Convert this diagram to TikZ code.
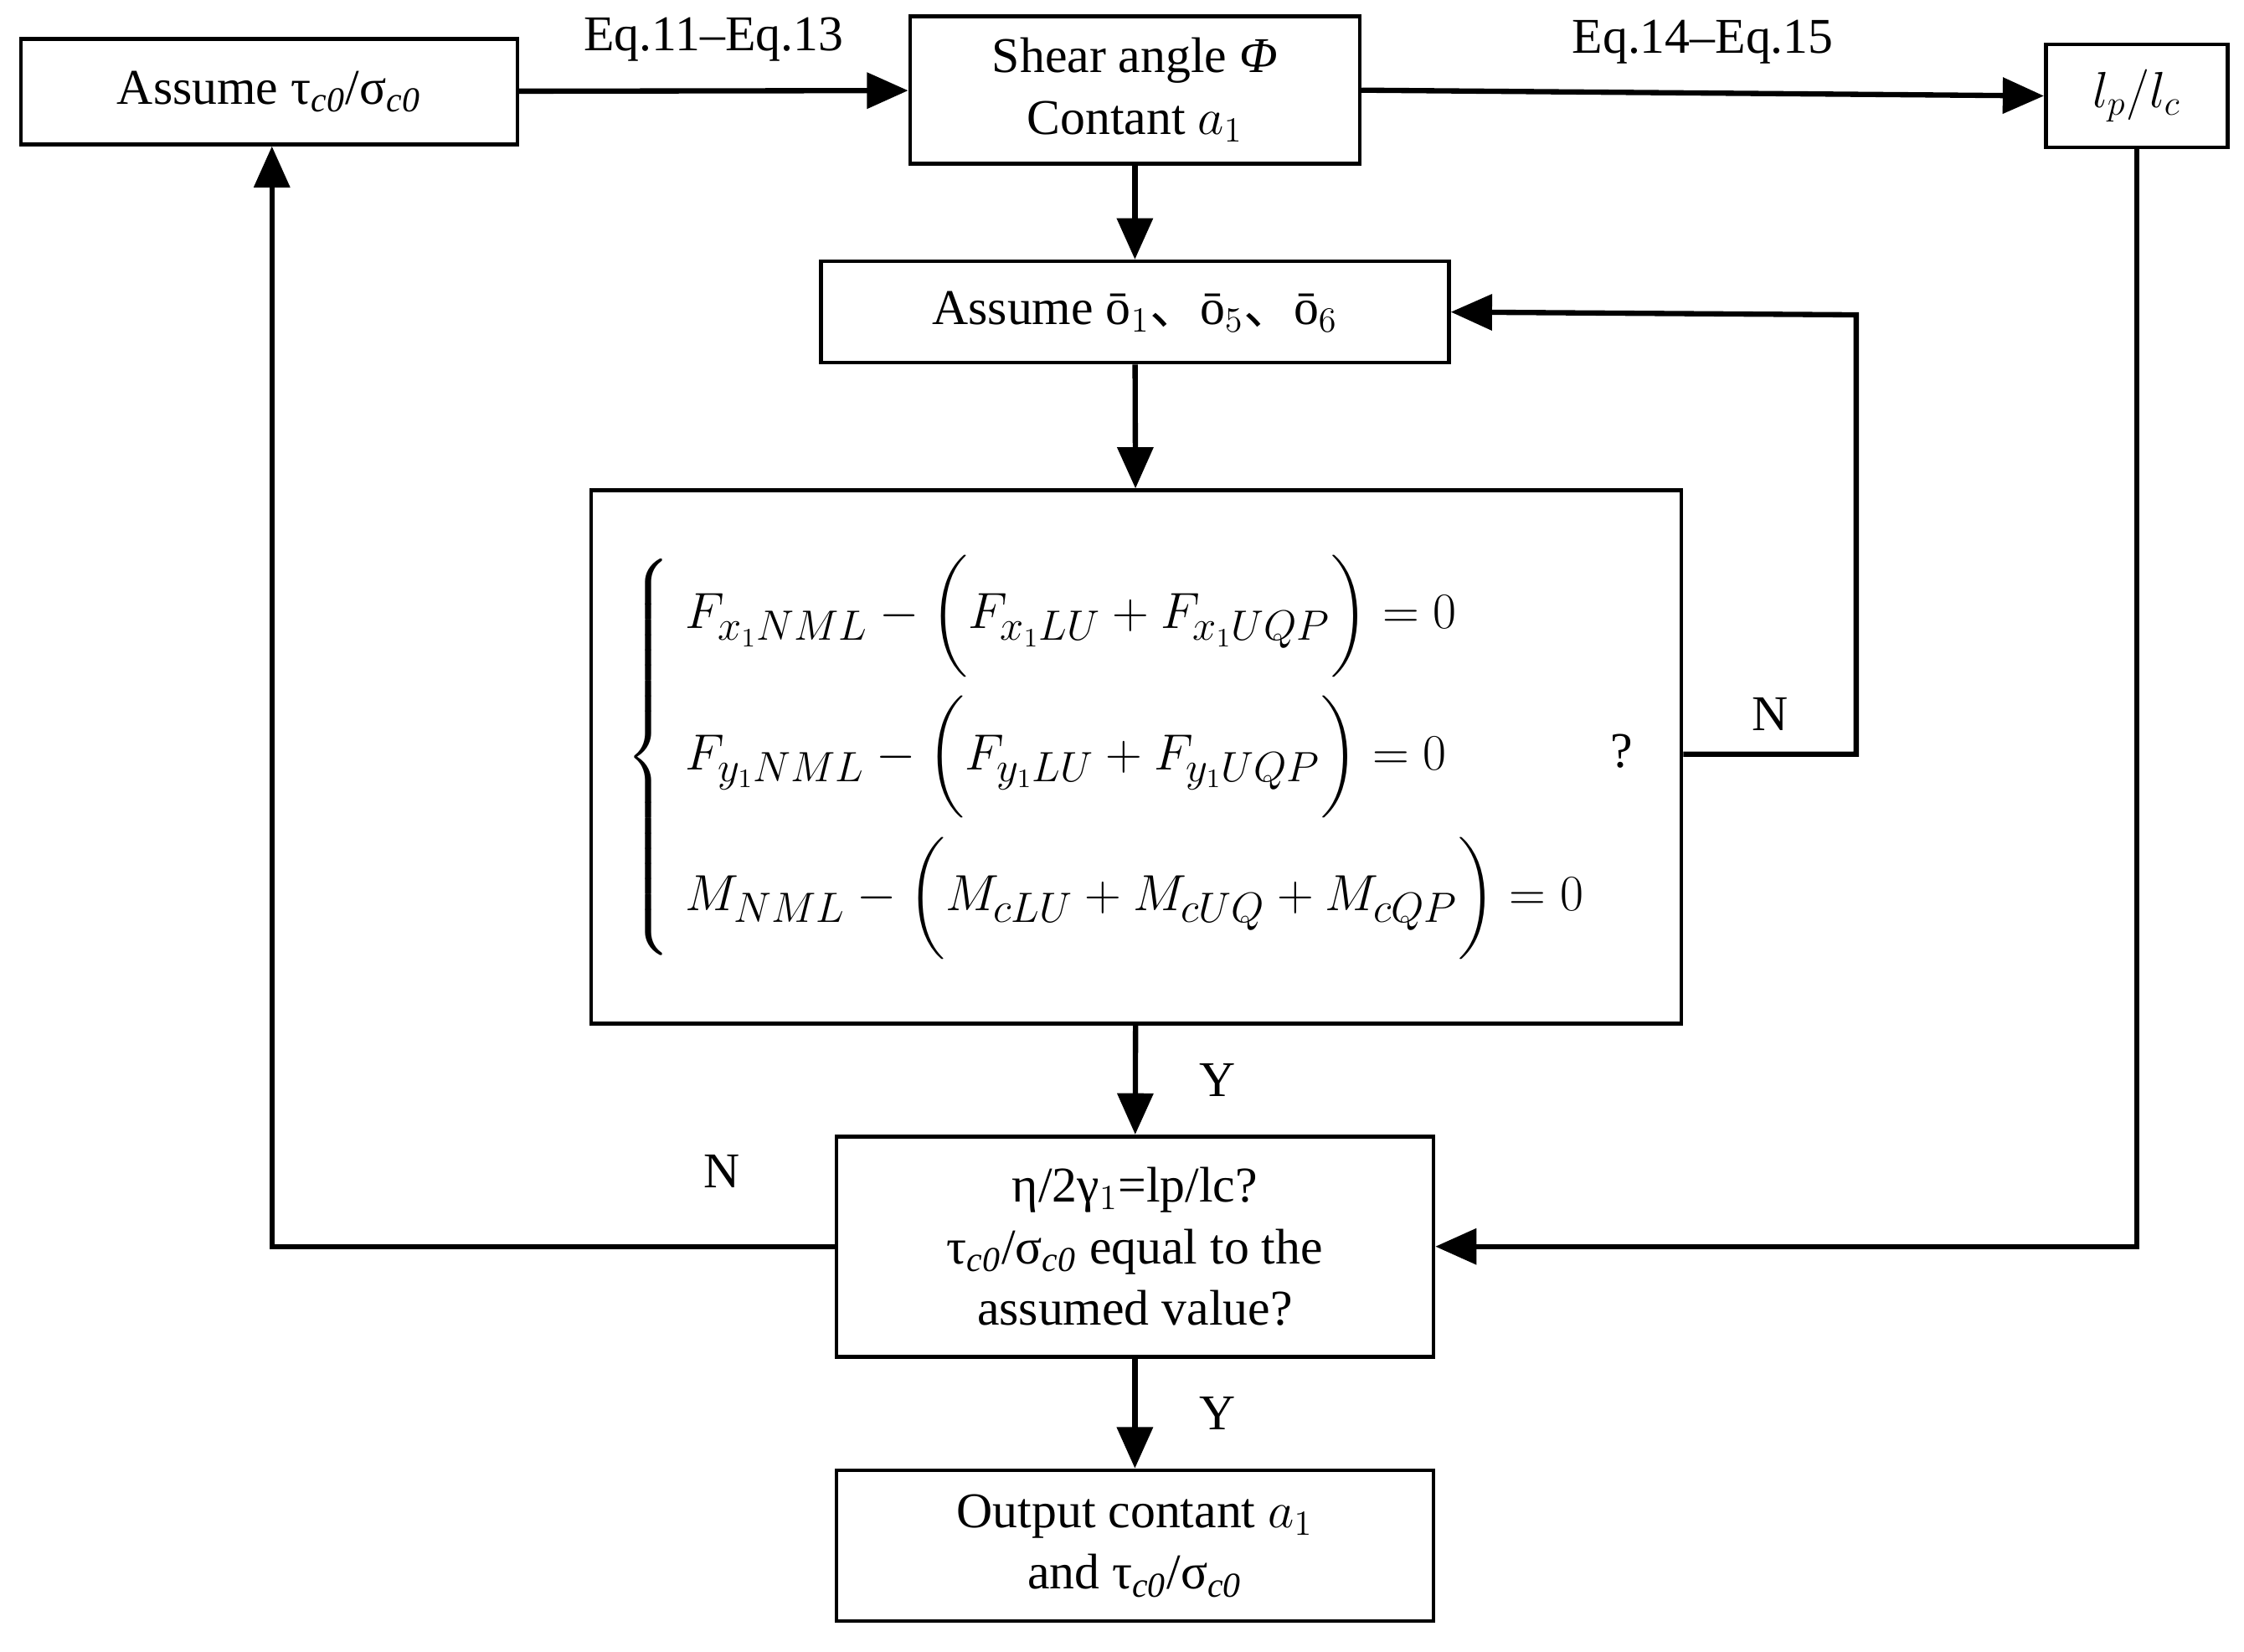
\documentclass[tikz,border=0pt]{standalone}
\usepackage{amsmath}
\usepackage{fontspec}
\setmainfont{Liberation Serif}
\newfontfamily\cjk{Noto Sans CJK SC}
\usetikzlibrary{positioning,arrows.meta}
\newcommand{\tsub}[1]{$_{\mathit{#1}}$}
\begin{document}
\begin{tikzpicture}[y=-.01709cm, x=.01709cm,font=\fontsize{17}{21}\selectfont,
  box/.style={draw,line width=1.3pt,align=center,inner sep=0pt},
  arr/.style={-{Triangle[length=14pt,width=12pt]},line width=1.8pt},
  lbl/.style={inner sep=1pt}]
\useasboundingbox (0,0) rectangle (1568,1154);

\node[box,minimum width=5.93cm,minimum height=1.26cm] (assume) at (188,64) {Assume τ\tsub{c0}/σ\tsub{c0}};
\node[box,minimum width=5.37cm,minimum height=1.76cm] (shear) at (793,63) {Shear angle \textit{Φ}\\Contant $a_1$};
\node[box,minimum width=2.17cm,minimum height=1.23cm] (lplc) at (1493,67) {$l_p/l_c$};
\node[box,minimum width=7.5cm,minimum height=1.21cm] (delta) at (793,218) {Assume ō$_1${\cjk 、}ō$_5${\cjk 、}ō$_6$};
\node[box,minimum width=13.02cm,minimum height=6.37cm] (eqs) at (794,529) {};
\node[anchor=west,font=\fontsize{19}{23}\selectfont] (sys) at (430,529) {$\left\{\begin{array}{l}
F_{x_1NML}-\biggl(F_{x_1LU}+F_{x_1UQP}\biggr)=0\\[16pt]
F_{y_1NML}-\biggl(F_{y_1LU}+F_{y_1UQP}\biggr)=0\\[16pt]
M_{NML}-\biggl(M_{cLU}+M_{cUQ}+M_{cQP}\biggr)=0
\end{array}\right.$};
\node (quest) at (1133,525) {?};
\node[box,minimum width=7.13cm,minimum height=2.63cm] (check) at (793,871) {η/2γ$_1$=lp/lc?\\τ\tsub{c0}/σ\tsub{c0} equal to the\\assumed value?};
\node[box,minimum width=7.13cm,minimum height=1.8cm] (output) at (793,1080) {Output contant $a_1$\\and τ\tsub{c0}/σ\tsub{c0}};

\coordinate (nr) at (1297,527);
\coordinate (nt) at (1297,220);
\coordinate (nl) at (190,871);
\coordinate (rb) at (1493,871);

\draw[arr] (assume) -- node[lbl,above=8pt] {Eq.11–Eq.13} (shear);
\draw[arr] (shear.east) -- node[lbl,above=8pt] {Eq.14–Eq.15} (lplc.west);
\draw[arr] (shear) -- (delta);
\draw[arr] (delta) -- (eqs);
\draw[arr] (eqs.east |- nr) -- node[lbl,above=6pt] {N} (nr) -- (nt) -- (delta.east);
\draw[arr] (eqs) -- node[lbl,right=20pt] {Y} (check);
\draw[arr] (check.west) -- node[lbl,above=18pt,pos=0.2] {N} (nl) -- (assume.south -| nl);
\draw[arr] (lplc) -- (rb) -- (check.east);
\draw[arr] (check) -- node[lbl,right=20pt] {Y} (output);
\end{tikzpicture}
\end{document}
